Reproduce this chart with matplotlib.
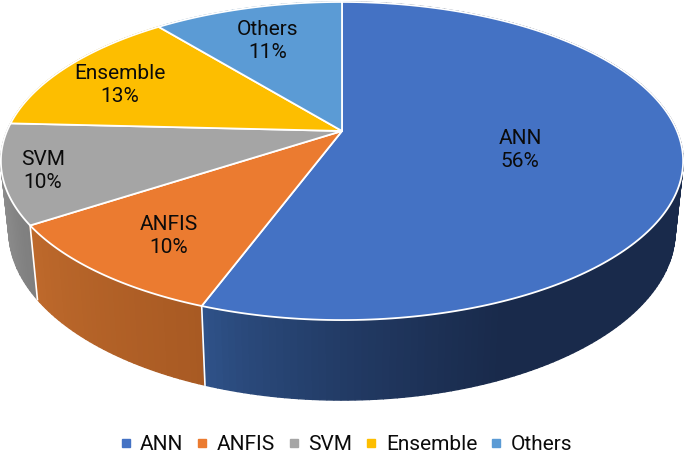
import numpy as np
import matplotlib
matplotlib.use("Agg")
import matplotlib.pyplot as plt
from matplotlib.lines import Line2D

categories = ["ANN", "ANFIS", "SVM", "Ensemble", "Others"]
values = [55.6, 10.1, 10.1, 13.4, 10.8]
top_colors = ["#4472C4", "#EB7B30", "#A5A5A5", "#FDBE00", "#5B9BD5"]
wall_near = ["#30548C", "#BF6A2C", "#8E8E8E", "#BF9000", "#44749F"]
wall_far = ["#192A4B", "#A85A23", "#7E7E7E", "#BF9000", "#44749F"]
label_pos = [(520, 150), (169, 236), (43, 171), (120, 85), (268, 41)]

FONT = "Roboto"
W, H = 685, 454
CX, CY = 342, 131
A, B, K = 335.0, 153.4, 0.1887


def project(theta):
    s, c = np.sin(theta), np.cos(theta)
    w = 1 + K * c
    return CX + A * s / w, CY - B * c / w


def lower(x, y):
    return CX + (x - CX) * 333 / 341, 231 + (y - 161) * 169 / 159


def hex_rgb(h):
    return np.array(matplotlib.colors.to_rgb(h))


fig = plt.figure(figsize=(W / 100, H / 100), dpi=100)
ax = fig.add_axes([0, 0, 1, 1])
ax.set_xlim(0, W)
ax.set_ylim(H, 0)
ax.axis("off")

edges = np.cumsum([0] + values) / sum(values) * 2 * np.pi

# side walls, drawn as thin quads so they can carry a gradient
for i in [4, 3, 2, 1, 0]:
    t0, t1 = edges[i], edges[i + 1]
    n = max(2, int((t1 - t0) / np.radians(1.0)))
    ts = np.linspace(t0, t1, n + 1)
    xs, ys = project(ts)
    bx, by = lower(xs, ys)
    near, far = hex_rgb(wall_near[i]), hex_rgb(wall_far[i])
    xa, xb = xs.min(), xs.max()
    order = range(n - 1, -1, -1)
    for j in order:
        xm = 0.5 * (xs[j] + xs[j + 1])
        f = (xm - xa) / (xb - xa)
        if i == 0:
            f = min(1.0, f * 1.6)
        col = near + (far - near) * f ** 0.7
        ax.fill([xs[j], xs[j + 1], bx[j + 1], bx[j]],
                [ys[j], ys[j + 1], by[j + 1], by[j]],
                facecolor=col, edgecolor=col, lw=1.0, zorder=2)

# white seams between visible walls
for t in edges[1:3]:
    x, y = project(t)
    bx, by = lower(x, y)
    ax.plot([x, bx], [y, by], color="white", lw=1.2, zorder=3)

# top face
for i in range(len(values)):
    ts = np.linspace(edges[i], edges[i + 1], 200)
    xs, ys = project(ts)
    ax.fill(np.r_[CX, xs], np.r_[CY, ys], facecolor=top_colors[i],
            edgecolor="white", lw=1.3, joinstyle="round", zorder=4)

# data labels
for name, val, (x, y) in zip(categories, values, label_pos):
    ax.text(x, y, f"{name}\n{val:.0f}%", ha="center", va="center", fontsize=15,
            family=FONT, color="#0b0b0b", linespacing=1.22, zorder=5)

handles = [Line2D([], [], ls="none", marker="s", ms=5.2, mfc=c, mec=c) for c in top_colors]
ax.legend(handles, categories, ncol=5, loc="center", bbox_to_anchor=(346 / W, 1 - 445 / H),
          frameon=False, prop={"family": FONT, "size": 15}, handlelength=0.55,
          handletextpad=0.42, columnspacing=0.63, borderpad=0, labelcolor="#0b0b0b")

fig.savefig("out.png", dpi=100, facecolor="white")
